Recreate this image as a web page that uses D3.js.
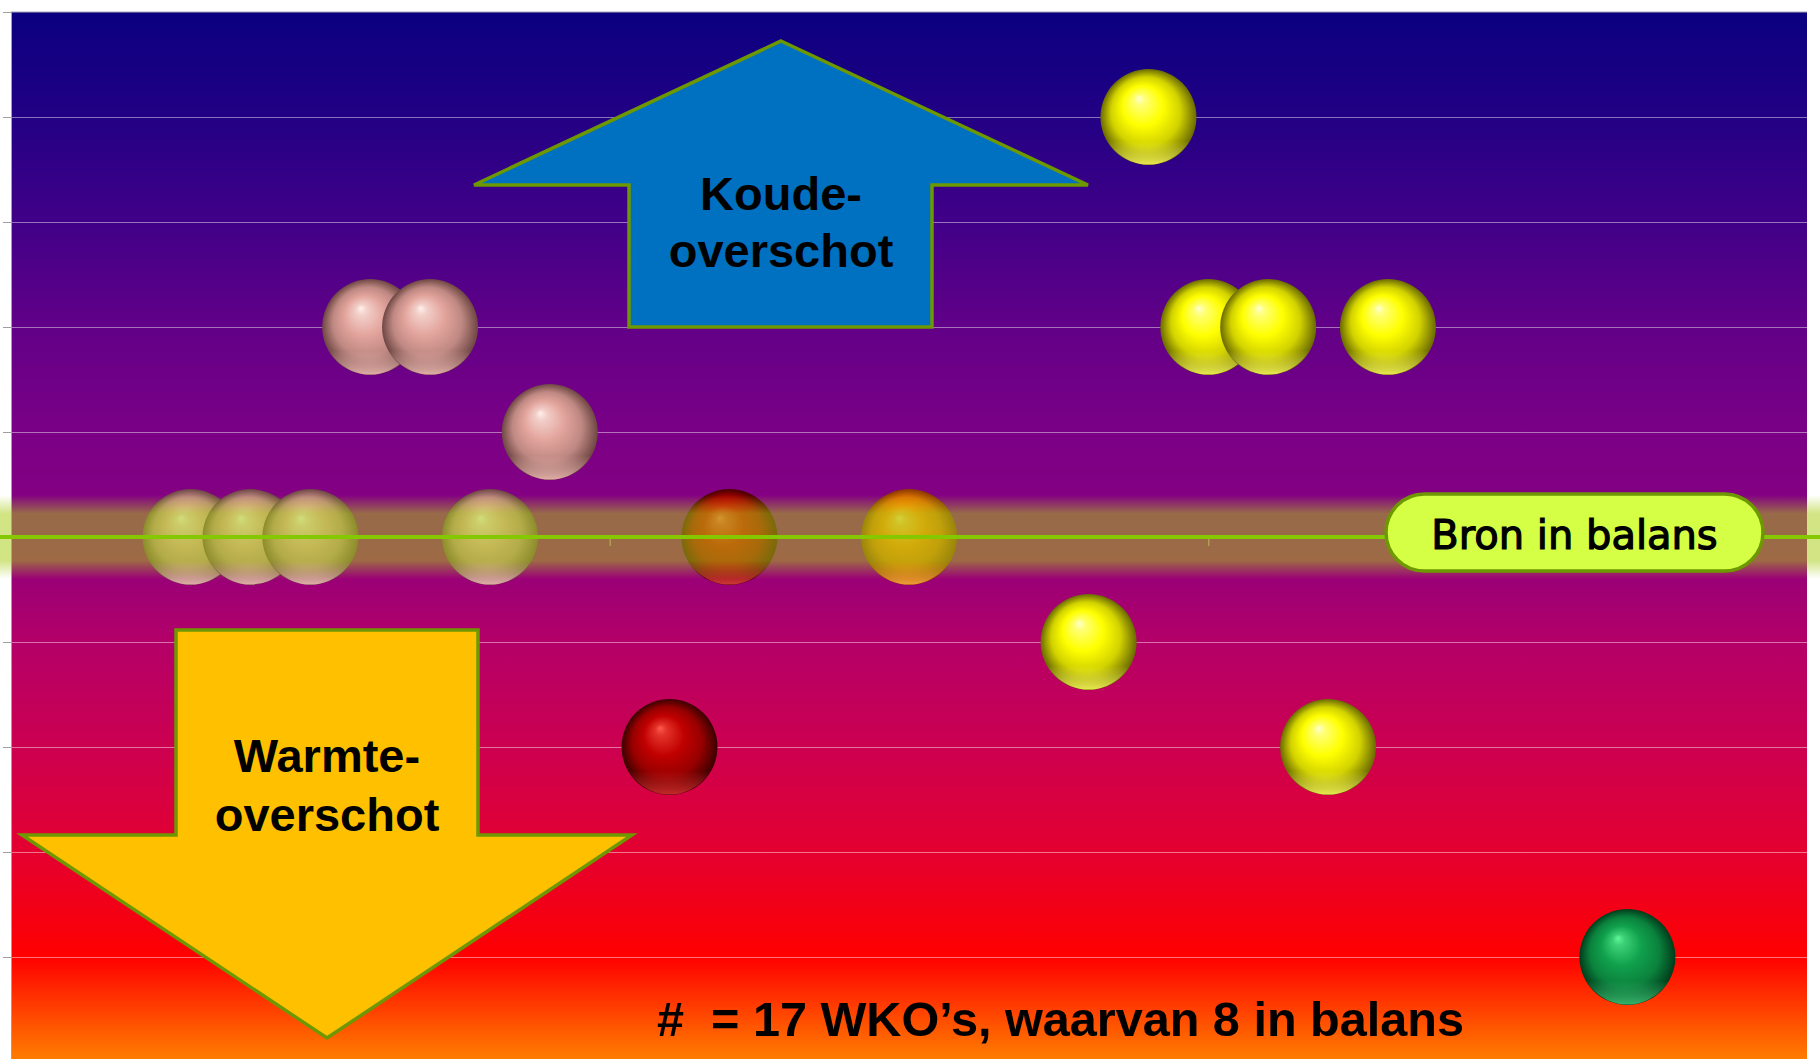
<!DOCTYPE html>
<html>
<head>
<meta charset="utf-8">
<script src="https://cdn.jsdelivr.net/npm/d3@7"></script>
<style>
  html, body { margin: 0; padding: 0; background: #ffffff; }
  svg { display: block; }
</style>
</head>
<body>
<svg id="chart" width="1820" height="1059"></svg>
<script>
// WKO installations: position on the horizontal axis and energy balance
const wkoIndex  = [3, 4, 5, 6, 7, 8, 9, 11, 12, 15, 18, 19, 20, 21, 22, 23, 27];
const wkoBalans = [0, 0, 0, 2, 2, 0, 1, -2, 0, 0, -1, 4, 2, 2, -2, 2, -4];
const wkoGroep  = ["roze", "roze", "roze", "roze", "roze", "roze", "roze",
                   "donkerrood", "rood", "oranje",
                   "geel", "geel", "geel", "geel", "geel", "geel", "groen"];

const yTicks = [-5, -4, -3, -2, -1, 0, 1, 2, 3, 4, 5];
const xTicks = [10, 20];

const labelKoude   = ["Koude-", "overschot"];
const labelWarmte  = ["Warmte-", "overschot"];
const labelBalans  = "Bron in balans";
const labelTotaal  = "#  = 17 WKO\u2019s, waarvan 8 in balans";

// sphere shading per group: highlight, base, shadow, reflected rim
const palette = {
  roze:       { hi: "#fff0ec", base: "#e2a49c", dark: "#6e4644", rim: "#f4c0b8" },
  geel:       { hi: "#ffffd0", base: "#ffff00", dark: "#6a6a00", rim: "#ffff60" },
  donkerrood: { hi: "#ff5a4a", base: "#c00000", dark: "#3a0000", rim: "#e03030" },
  rood:       { hi: "#ff5a4a", base: "#d00000", dark: "#460000", rim: "#e84040" },
  oranje:     { hi: "#ffd860", base: "#ff8800", dark: "#8a3800", rim: "#ffb040" },
  groen:      { hi: "#60f898", base: "#10a04c", dark: "#003c1a", rim: "#40c878" }
};

const W = 1820, H = 1059;
const plot = { left: 11, right: 1807, top: 12, bottom: 1062 };
const R = 48;

const svg = d3.select("#chart");
const defs = svg.append("defs");

const x = d3.scaleLinear().domain([0, 30]).range([plot.left, plot.right]);
const y = d3.scaleLinear().domain([-5, 5]).range([plot.bottom, plot.top]);

// background: navy at the top through purple and crimson to orange
const bg = defs.append("linearGradient").attr("id", "bg")
  .attr("x1", 0).attr("y1", 0).attr("x2", 0).attr("y2", 1);
[[0, "#0a0080"], [0.1, "#220084"], [0.2, "#410088"], [0.3, "#620088"],
 [0.4, "#7a0086"], [0.5, "#8a0080"], [0.6, "#b40068"], [0.7, "#cc0050"],
 [0.8, "#e40030"], [0.9, "#ff0000"], [1, "#ff8000"]]
  .forEach(([o, c]) => bg.append("stop").attr("offset", o).attr("stop-color", c));

svg.append("rect")
  .attr("x", plot.left).attr("y", plot.top)
  .attr("width", plot.right - plot.left).attr("height", plot.bottom - plot.top)
  .attr("fill", "url(#bg)");

// horizontal gridlines
svg.append("g")
  .attr("transform", `translate(${plot.left},0)`)
  .call(d3.axisLeft(y).tickValues(yTicks.filter(v => v !== 5 && v !== -5))
    .tickSize(-(plot.right - plot.left)).tickFormat(""))
  .call(g => g.select(".domain").remove())
  .call(g => g.selectAll("line").attr("stroke", "#ffffff").attr("stroke-opacity", 0.45));

// top border
svg.append("line")
  .attr("x1", plot.left).attr("x2", plot.right)
  .attr("y1", plot.top).attr("y2", plot.top)
  .attr("stroke", "#a8a8b8").attr("stroke-width", 1);

// vertical axis with outward ticks
svg.append("g")
  .attr("transform", `translate(${plot.left},0)`)
  .call(d3.axisLeft(y).tickValues(yTicks).tickSize(8).tickFormat(""))
  .call(g => g.selectAll("line").attr("stroke", "#a0a0a0"))
  .call(g => g.select(".domain").attr("stroke", "#a0a0a0"));

// horizontal axis through the zero line
svg.append("g")
  .attr("transform", `translate(0,${y(0)})`)
  .call(d3.axisBottom(x).tickValues(xTicks).tickSize(9).tickFormat(""))
  .call(g => g.select(".domain").remove())
  .call(g => g.selectAll("line").attr("stroke", "#e0c8a8").attr("stroke-opacity", 0.8));

// arrows
const arrowStroke = "#6e9800";
const upArrow = [[781, 41], [1088, 185], [932, 185], [932, 327], [629, 327], [629, 185], [474, 185]];
const downArrow = [[176, 630], [478, 630], [478, 835], [632, 835], [327, 1038], [22, 835], [176, 835]];

svg.append("path")
  .attr("d", d3.line()(upArrow) + "Z")
  .attr("fill", "#0070c0").attr("stroke", arrowStroke).attr("stroke-width", 3.5)
  .attr("stroke-linejoin", "miter");

svg.append("path")
  .attr("d", d3.line()(downArrow) + "Z")
  .attr("fill", "#ffc000").attr("stroke", arrowStroke).attr("stroke-width", 3.5)
  .attr("stroke-linejoin", "miter");

const arrowFont = "'Liberation Sans', Arial, sans-serif";
svg.append("g").selectAll("text").data(labelKoude).join("text")
  .attr("x", 781).attr("y", (d, i) => 210 + i * 57)
  .attr("text-anchor", "middle")
  .attr("font-family", arrowFont).attr("font-weight", "bold").attr("font-size", 47)
  .attr("fill", "#000").text(d => d);

svg.append("g").selectAll("text").data(labelWarmte).join("text")
  .attr("x", 327).attr("y", (d, i) => 772 + i * 59)
  .attr("text-anchor", "middle")
  .attr("font-family", arrowFont).attr("font-weight", "bold").attr("font-size", 47)
  .attr("fill", "#000").text(d => d);

// sphere gradients: light from the upper left, shadow towards the lower right
Object.entries(palette).forEach(([k, p]) => {
  const g = defs.append("radialGradient").attr("id", "bol-" + k)
    .attr("cx", 0.5).attr("cy", 0.5).attr("r", 0.5)
    .attr("fx", 0.4).attr("fy", 0.3);
  [[0, p.hi],
   [0.12, d3.interpolateRgb(p.hi, p.base)(0.45)],
   [0.42, p.base],
   [0.72, d3.interpolateRgb(p.base, p.dark)(0.3)],
   [0.9, d3.interpolateRgb(p.base, p.dark)(0.75)],
   [1, p.dark]]
    .forEach(([o, c]) => g.append("stop").attr("offset", o).attr("stop-color", c));

  const rim = defs.append("linearGradient").attr("id", "rim-" + k)
    .attr("x1", 0).attr("y1", 0).attr("x2", 0).attr("y2", 1);
  rim.append("stop").attr("offset", 0.75).attr("stop-color", p.rim).attr("stop-opacity", 0);
  rim.append("stop").attr("offset", 0.96).attr("stop-color", p.rim).attr("stop-opacity", 0.7);
  rim.append("stop").attr("offset", 1).attr("stop-color", p.rim).attr("stop-opacity", 0.85);
});

const balls = d3.range(wkoIndex.length).map(i => ({
  xv: wkoIndex[i], yv: wkoBalans[i], groep: wkoGroep[i]
}));

const ballG = svg.append("g").selectAll("g").data(balls).join("g")
  .attr("transform", d => `translate(${x(d.xv)},${y(d.yv)})`);
ballG.append("circle").attr("r", R).attr("fill", d => `url(#bol-${d.groep})`);
ballG.append("circle").attr("r", R - 0.5).attr("fill", d => `url(#rim-${d.groep})`);

// glow band around the balance line
const band = defs.append("linearGradient").attr("id", "band")
  .attr("x1", 0).attr("y1", 0).attr("x2", 0).attr("y2", 1);
[[0, 0], [0.22, 0.52], [0.78, 0.52], [1, 0]].forEach(([o, a]) =>
  band.append("stop").attr("offset", o).attr("stop-color", "#a8cc14").attr("stop-opacity", a));

svg.append("rect")
  .attr("x", 0).attr("width", W)
  .attr("y", y(0) - 42).attr("height", 84)
  .attr("fill", "url(#band)");

svg.append("line")
  .attr("x1", 0).attr("x2", W)
  .attr("y1", y(0)).attr("y2", y(0))
  .attr("stroke", "#86c800").attr("stroke-width", 4);

// "Bron in balans" label
const pill = { x: 1386, w: 377, h: 77 };
svg.append("rect")
  .attr("x", pill.x).attr("y", y(0) - 43).attr("width", pill.w).attr("height", pill.h)
  .attr("rx", pill.h / 2).attr("ry", pill.h / 2)
  .attr("fill", "#d4ff44").attr("stroke", arrowStroke).attr("stroke-width", 3.5);

svg.append("text")
  .attr("x", pill.x + pill.w / 2).attr("y", y(0) + 12)
  .attr("text-anchor", "middle")
  .attr("font-family", "'DejaVu Sans', Verdana, sans-serif").attr("font-size", 40)
  .attr("fill", "#000").attr("stroke", "#000").attr("stroke-width", 1.2)
  .text(labelBalans);

// summary line at the bottom
svg.append("text")
  .attr("x", 657).attr("y", 1036)
  .style("white-space", "pre")
  .attr("font-family", arrowFont).attr("font-weight", "bold").attr("font-size", 48)
  .attr("textLength", 807).attr("lengthAdjust", "spacingAndGlyphs")
  .attr("fill", "#000")
  .text(labelTotaal);
</script>
</body>
</html>
